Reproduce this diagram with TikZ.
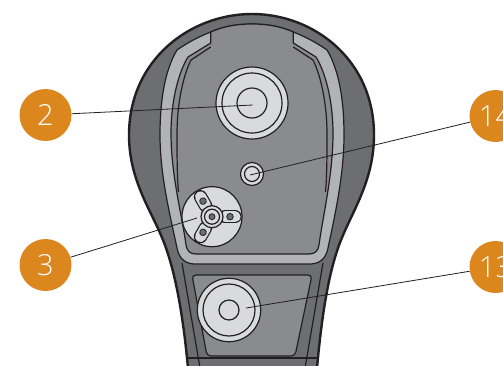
\documentclass[tikz,border=0pt]{standalone}
\usepackage{fontspec}
\newfontfamily\calloutfont{Open Sans Light}
\usetikzlibrary{calc}
\definecolor{popamber}{RGB}{219, 135, 30}
\definecolor{shellgray}{RGB}{109, 110, 113}
\definecolor{plategray}{RGB}{138, 139, 142}
\definecolor{bandgray}{RGB}{177, 179, 182}
\definecolor{ringgray}{RGB}{217, 218, 219}
\definecolor{inkgray}{RGB}{35, 31, 32}

\begin{document}
\begin{tikzpicture}[
  x=1pt, y=-1pt,
  callout/.style={circle, fill=popamber, text=white, minimum size=52pt, inner sep=0pt, font=\calloutfont\fontsize{29}{29}\selectfont},
  leader/.style={draw=inkgray, line width=0.8pt},
  outline/.style={draw=inkgray, line width=1.2pt},
  ring/.style={draw=inkgray, line width=1.2pt, fill=ringgray}
]
  \useasboundingbox (0, 0) rectangle (503, 365);

  % shell
  \draw[draw=inkgray, line width=2.4pt, fill=shellgray]
    (188, 368) .. controls (184, 325) and (177, 275) .. (163, 240)
    .. controls (151, 210) and (129, 180) .. (129, 135)
    .. controls (129, 60) and (190, 14) .. (252, 14)
    .. controls (314, 14) and (374, 60) .. (374, 135)
    .. controls (374, 180) and (353, 210) .. (341, 240)
    .. controls (327, 275) and (321, 325) .. (317, 368);
  \draw[outline] (182, 263) -- (200, 368);
  \draw[outline] (323, 263) -- (305, 368);
  \draw[outline] (188, 358) -- (317, 358);

  % band and plate
  \draw[outline, fill=bandgray]
    (252, 24) .. controls (235, 24) and (222, 27) .. (210.7, 32)
    .. controls (198, 37) and (187, 43) .. (177, 50)
    .. controls (165, 70) and (160, 100) .. (160, 135)
    .. controls (160, 175) and (170, 215) .. (177, 248)
    .. controls (179, 259) and (186, 264) .. (195, 264)
    -- (310, 264)
    .. controls (319, 264) and (326, 259) .. (328, 248)
    .. controls (335, 215) and (344, 175) .. (344, 135)
    .. controls (344, 100) and (339, 70) .. (327, 50)
    .. controls (317, 43) and (306, 37) .. (293.3, 32)
    .. controls (282, 27) and (269, 24) .. (252, 24) -- cycle;
  \draw[outline, fill=plategray]
    (252, 24) .. controls (235, 24) and (222, 27) .. (210.7, 32)
    -- (210.7, 43) -- (188, 57)
    .. controls (177, 75) and (171, 105) .. (171, 133)
    .. controls (171, 175) and (182, 215) .. (186, 245)
    .. controls (187, 251) and (190, 254) .. (196, 254)
    -- (309, 254)
    .. controls (315, 254) and (318, 251) .. (319, 245)
    .. controls (323, 215) and (333, 175) .. (333, 133)
    .. controls (333, 105) and (327, 75) .. (316, 57)
    -- (293.3, 43) -- (293.3, 32)
    .. controls (282, 27) and (269, 24) .. (252, 24) -- cycle;
  \draw[outline] (210.7, 47) -- (191, 60) .. controls (182, 78) and (177, 108) .. (177, 133) .. controls (177, 155) and (177, 175) .. (178.5, 192);
  \draw[outline] (293.3, 47) -- (313, 60) .. controls (322, 78) and (327, 108) .. (327, 133) .. controls (327, 155) and (327, 175) .. (325.5, 192);

  % lower panel
  \draw[outline, fill=plategray, rounded corners=4pt]
    (192, 275) -- (312, 275) -- (295, 356) -- (207, 356) -- cycle;

  % upper stud
  \draw[ring] (252, 103) circle (36);
  \draw[ring] (252, 103) circle (30);
  \draw[ring] (252, 103) circle (15);

  % small stud
  \draw[ring] (252, 174) circle (11.5);
  \draw[ring] (252, 174) circle (7.5);

  % lobed disc
  \draw[ring] (212, 216.7) circle (30);
  \foreach \ang in {0, 120, 240} {
    \draw[draw=inkgray, line width=13.4pt, line cap=round, rotate around={\ang:(212, 216.7)}] (225, 216.7) -- (235, 216.7);
    \draw[draw=ringgray, line width=11pt, line cap=round, rotate around={\ang:(212, 216.7)}] (225, 216.7) -- (235, 216.7);
    \draw[draw=inkgray, line width=0.8pt, fill=shellgray, rotate around={\ang:(212, 216.7)}] (230, 216.7) circle (3.3);
  }
  \draw[ring] (212, 216.7) circle (11);
  \draw[ring] (212, 216.7) circle (7.5);
  \draw[draw=inkgray, line width=0.8pt, fill=shellgray] (212, 216.7) circle (3);

  % lower stud
  \draw[ring] (229, 310) circle (31.7);
  \draw[ring] (229, 310) circle (26);
  \draw[ring] (229, 310) circle (10);

  \node[callout] (lbltwo) at (45.5, 115) {2};
  \node[callout] (lblthree) at (45.5, 265) {3};
  \node[callout] (lblfourteen) at (495.5, 116) {14};
  \node[callout] (lblthirteen) at (495.5, 267) {13};

  \coordinate (endtwo) at (252.7, 105);
  \coordinate (endthree) at (197, 218);
  \coordinate (endfourteen) at (250, 175);
  \coordinate (endthirteen) at (246, 308);

  \draw[leader] (lbltwo) -- (endtwo);
  \draw[leader] (lblthree) -- (endthree);
  \draw[leader] (lblfourteen) -- (endfourteen);
  \draw[leader] (lblthirteen) -- (endthirteen);
\end{tikzpicture}
\end{document}
